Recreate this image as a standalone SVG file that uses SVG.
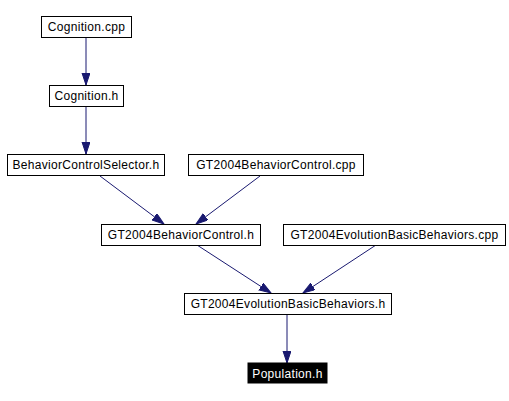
<svg xmlns="http://www.w3.org/2000/svg" width="509" height="401" viewBox="0 0 509 401">
<style>
.n rect{fill:#fff;stroke:#000;stroke-width:1}
.n text{font-family:"Liberation Sans",Arial,sans-serif;font-size:12px;letter-spacing:0.3px;text-anchor:middle;fill:#000}
.n.hl rect{fill:#000}
.n.hl text{fill:#fff}
.e line{stroke:#191970;stroke-width:1;marker-end:url(#ah)}
</style>
<defs>
<marker id="ah" markerUnits="userSpaceOnUse" markerWidth="14" markerHeight="10" refX="12" refY="4" orient="auto">
<path d="M0,0 L12,4 L0,8 Z" fill="#191970" stroke="#191970"/>
</marker>
</defs>
<rect width="509" height="401" fill="#fff"/>
<g id="edges" class="e">
<line x1="86" y1="37" x2="86" y2="85"/>
<line x1="86" y1="107" x2="86" y2="154"/>
<line x1="100" y1="176" x2="164" y2="224"/>
<line x1="260" y1="176" x2="196" y2="224"/>
<line x1="197" y1="245" x2="271" y2="293"/>
<line x1="376" y1="245" x2="303" y2="293"/>
<line x1="287" y1="314" x2="287" y2="363"/>
</g>
<g id="cognition_cpp" class="n"><rect x="41.5" y="16.5" width="90" height="21"/><text x="86.5" y="31">Cognition.cpp</text></g>
<g id="cognition_h" class="n"><rect x="49.5" y="85.5" width="74" height="21"/><text x="86.5" y="100">Cognition.h</text></g>
<g id="bcs_h" class="n"><rect x="7.5" y="154.5" width="157" height="21"/><text x="86" y="169">BehaviorControlSelector.h</text></g>
<g id="gtbc_cpp" class="n"><rect x="188.5" y="154.5" width="175" height="21"/><text x="276" y="169">GT2004BehaviorControl.cpp</text></g>
<g id="gtbc_h" class="n"><rect x="101.5" y="224.5" width="159" height="21"/><text x="181" y="239">GT2004BehaviorControl.h</text></g>
<g id="gtebb_cpp" class="n"><rect x="283.5" y="224.5" width="222" height="21"/><text x="394.5" y="239">GT2004EvolutionBasicBehaviors.cpp</text></g>
<g id="gtebb_h" class="n"><rect x="184.5" y="293.5" width="207" height="21"/><text x="288" y="308">GT2004EvolutionBasicBehaviors.h</text></g>
<g id="population_h" class="n hl"><rect x="248" y="363" width="79" height="20"/><text x="287.5" y="377.5">Population.h</text></g>
</svg>
